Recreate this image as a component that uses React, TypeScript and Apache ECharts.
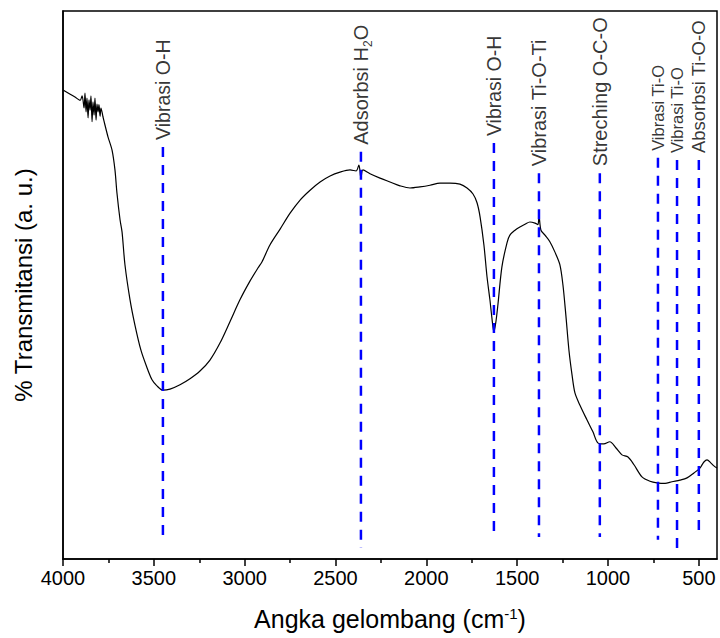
import React, { useEffect, useRef } from "react";
import * as echarts from "echarts";

const wavenumbers = [
  4000, 3934, 3906, 3895, 3884, 3879, 3873, 3868, 3862, 3857, 3851, 3846, 3840, 3835, 3829, 3824, 3818, 3813, 3807, 3802,
  3796, 3791, 3780, 3769, 3752, 3730, 3714, 3703, 3686, 3675,
  3659, 3631, 3604, 3571, 3543, 3510, 3483, 3450, 3411, 3356, 3301, 3246, 3191, 3136, 3081, 3026, 2971, 2927, 2905, 2861,
  2805, 2750, 2695, 2640, 2585, 2530, 2475, 2420, 2387, 2371, 2360, 2349, 2310, 2255, 2200, 2145, 2090, 2035, 1980, 1925,
  1870, 1815, 1776, 1743, 1721, 1704, 1683, 1666, 1650, 1639, 1628, 1617, 1606, 1584, 1556, 1540, 1512, 1485, 1457, 1430,
  1402, 1386, 1380, 1369, 1347, 1320, 1292, 1265, 1248, 1232, 1215, 1198, 1182, 1155, 1116, 1083, 1056, 1023, 990, 957,
  923, 890, 857, 813, 769, 730, 686, 648, 604, 565, 527, 494, 472, 455, 433, 417, 400,
];

const transmittance = [
  85.6, 84.3, 83.7, 84.5, 82.3, 85.0, 81.6, 84.1, 80.5, 83.8, 81.9, 84.5, 79.8, 83.4, 81.0, 84.1, 80.1, 83.0, 81.6, 82.9,
  80.8, 82.3, 80.7, 79.2, 77.0, 74.6, 71.0, 66.8, 61.9, 59.7,
  53.7, 47.3, 42.7, 38.1, 35.4, 32.7, 31.6, 30.8, 31.0, 31.8, 32.9, 34.3, 36.3, 39.4, 43.3, 47.3, 50.7, 53.1, 54.2, 57.3,
  60.2, 63.1, 65.5, 67.3, 68.8, 69.9, 70.6, 71.0, 70.8, 71.9, 69.5, 71.0, 70.3, 69.5, 68.8, 68.1, 67.7, 67.9, 68.2, 68.6,
  68.6, 68.4, 67.7, 66.6, 65.0, 62.4, 57.3, 51.5, 47.3, 44.0, 41.4, 43.3, 46.4, 53.3, 57.7, 59.1, 60.0, 60.6, 61.1, 61.5,
  61.3, 61.0, 62.6, 60.0, 59.1, 57.9, 56.0, 53.7, 50.0, 44.5, 38.1, 33.6, 30.3, 28.1, 25.4, 23.2, 21.2, 21.0, 21.4, 20.3,
  19.0, 18.6, 17.2, 15.0, 14.2, 13.9, 13.8, 14.1, 14.4, 14.8, 15.7, 16.6, 17.7, 18.1, 17.5, 17.0, 16.6,
];

const bandPositions = [3450, 2360, 1628, 1380, 1045, 725, 620, 500];
const bandLabels = [
  "Vibrasi O-H",
  "Adsorbsi H{sub|2}O",
  "Vibrasi O-H",
  "Vibrasi Ti-O-Ti",
  "Streching O-C-O",
  "Vibrasi Ti-O",
  "Vibrasi Ti-O",
  "Absorbsi Ti-O-O",
];
const bandTop = [75.2, 74.3, 75.9, 70.4, 70.4, 73.2, 72.8, 72.8];
const bandBottom = [3.5, 2.0, 4.4, 4.0, 4.0, 3.5, 2.0, 4.4];

const majorTicks = [4000, 3500, 3000, 2500, 2000, 1500, 1000, 500];
const minorTicks = [3750, 3250, 2750, 2250, 1750, 1250, 750];

const FONT = "'Liberation Sans', Arial, Helvetica, sans-serif";
const labelSizes = [19.5, 20, 19.5, 20, 20, 16.5, 16.5, 18.5];

export default function App() {
  const ref = useRef<HTMLDivElement>(null);

  useEffect(() => {
    if (!ref.current) return;
    const chart = echarts.init(ref.current, undefined, { renderer: "svg" });

    const spectrum = wavenumbers.map((w, i) => [w, transmittance[i]]);

    const bandLines = bandPositions.map((w, i) => ({
      type: "line",
      xAxisIndex: 0,
      yAxisIndex: 0,
      data: [
        [w, bandTop[i]],
        [w, bandBottom[i]],
      ],
      showSymbol: false,
      symbol: "none",
      silent: true,
      z: 3,
      lineStyle: { color: "#0000ff", width: 2.5, type: [10, 8] },
    }));

    const option: any = {
      animation: false,
      textStyle: { fontFamily: FONT },
      grid: {
        left: 63,
        right: 3,
        top: 11,
        bottom: 79,
        show: true,
        borderColor: "#000",
        borderWidth: 1.5,
        backgroundColor: "transparent",
      },
      xAxis: [
        {
          type: "value",
          min: 400,
          max: 4000,
          inverse: true,
          position: "bottom",
          axisLine: { show: true, lineStyle: { color: "#000", width: 1.5 } },
          axisTick: { show: true, customValues: majorTicks, length: 7, lineStyle: { color: "#000", width: 1.5 } },
          axisLabel: {
            show: true,
            customValues: majorTicks,
            fontSize: 20,
            color: "#000",
            margin: 9,
            fontFamily: FONT,
            formatter: (v: number) => String(v),
          },
          splitLine: { show: false },
          name: "Angka gelombang (cm{sup|-1})",
          nameLocation: "middle",
          nameGap: 47,
          nameTextStyle: {
            fontSize: 25,
            color: "#000",
            fontFamily: FONT,
            rich: { sup: { fontSize: 15, verticalAlign: "top", fontFamily: FONT, color: "#000" } },
          },
        },
        {
          type: "value",
          min: 400,
          max: 4000,
          inverse: true,
          position: "bottom",
          axisLine: { show: false },
          axisTick: { show: true, customValues: minorTicks, length: 4, lineStyle: { color: "#000", width: 1.5 } },
          axisLabel: { show: false },
          splitLine: { show: false },
        },
      ],
      yAxis: {
        type: "value",
        min: 0,
        max: 100,
        axisLine: { show: true, lineStyle: { color: "#000", width: 1.5 } },
        axisTick: { show: false },
        axisLabel: { show: false },
        splitLine: { show: false },
        name: "% Transmitansi (a. u.)",
        nameLocation: "middle",
        nameGap: 28,
        nameTextStyle: { fontSize: 24, color: "#000", fontFamily: FONT },
      },
      series: [
        {
          type: "line",
          xAxisIndex: 0,
          yAxisIndex: 0,
          data: spectrum,
          showSymbol: false,
          symbol: "none",
          silent: true,
          smooth: 0.3,
          z: 2,
          lineStyle: { color: "#000", width: 1.2 },
        },
        ...bandLines,
        {
          type: "scatter",
          xAxisIndex: 0,
          yAxisIndex: 0,
          symbolSize: 0,
          silent: true,
          z: 4,
          data: bandPositions.map((w, i) => ({
            value: [w, bandTop[i]],
            label: { fontSize: labelSizes[i] },
          })),
          label: {
            show: true,
            position: "top",
            distance: 7,
            rotate: 90,
            align: "left",
            verticalAlign: "middle",
            color: "#000",
            lineHeight: 26,
            fontFamily: FONT,
            formatter: (p: any) => bandLabels[p.dataIndex],
            rich: {
              sub: { fontSize: 12, lineHeight: 12, verticalAlign: "bottom", fontFamily: FONT, color: "#000" },
            },
          },
        },
      ],
    };

    chart.setOption(option);
    return () => chart.dispose();
  }, []);

  return <div ref={ref} style={{ position: "absolute", left: 0, top: 0, width: 720, height: 638 }} />;
}
